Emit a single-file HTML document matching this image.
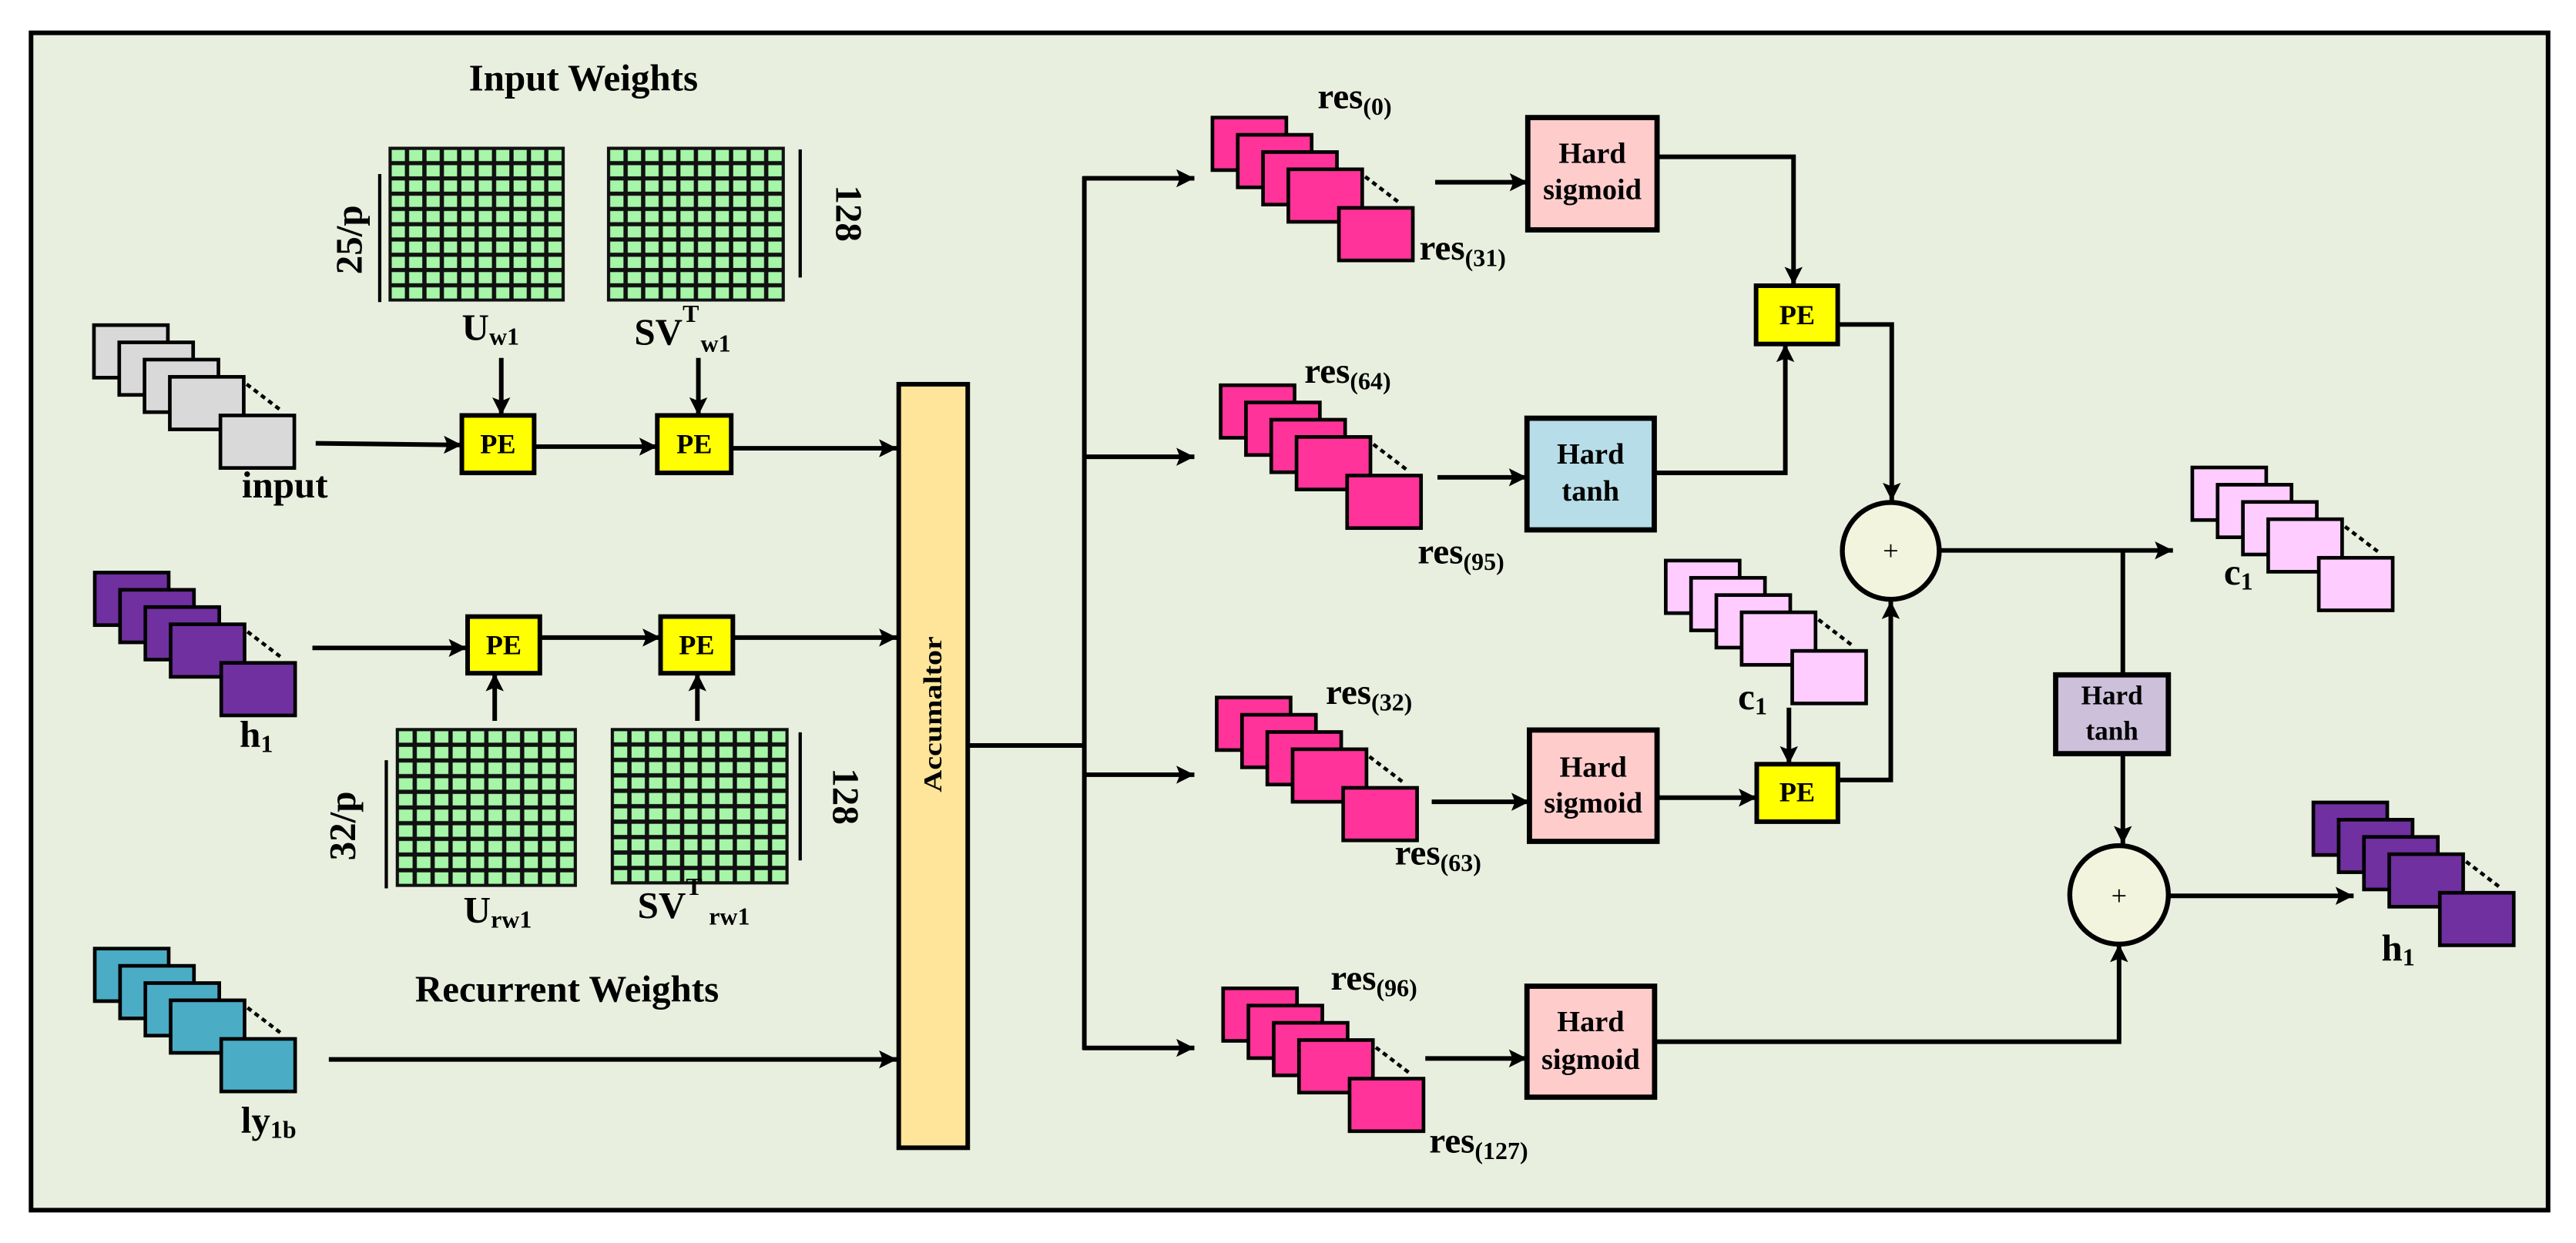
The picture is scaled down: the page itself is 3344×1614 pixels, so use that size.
<!DOCTYPE html>
<html><head><meta charset="utf-8"><style>
html,body{margin:0;padding:0;background:#fff;}
svg{display:block;}
text{font-family:"Liberation Serif",serif;font-weight:bold;fill:#000;}
</style></head><body>
<svg width="3344" height="1614" viewBox="0 0 1568 757" xmlns="http://www.w3.org/2000/svg">
<defs>
<marker id="ah" viewBox="0 0 10 10" markerWidth="13" markerHeight="11" markerUnits="userSpaceOnUse" refX="10" refY="5" orient="auto">
<path d="M0,0 L10,5 L0,10 L2,5 Z" fill="#000"/>
</marker>
<g id="stk" stroke="#000" stroke-width="2.2">
<rect x="0" y="0" width="45" height="32"/>
<rect x="15.4" y="10.5" width="45" height="32"/>
<rect x="30.8" y="21" width="45" height="32"/>
<rect x="46.2" y="31.5" width="45" height="32"/>
<line x1="93" y1="36" x2="114" y2="52" stroke-dasharray="3,2.5" fill="none"/>
<rect x="77" y="55" width="45" height="32"/>
</g>
<pattern id="gr1" patternUnits="userSpaceOnUse" x="237" y="90" width="10.6" height="9.3">
<rect width="10.6" height="9.3" fill="#111"/><rect x="1.3" y="1.3" width="8" height="6.8" fill="#a6f5a8"/></pattern>
<pattern id="gr2" patternUnits="userSpaceOnUse" x="370" y="90" width="10.7" height="9.3">
<rect width="10.7" height="9.3" fill="#111"/><rect x="1.3" y="1.3" width="8.1" height="6.8" fill="#a6f5a8"/></pattern>
<pattern id="gr3" patternUnits="userSpaceOnUse" x="241.4" y="444" width="10.9" height="9.55">
<rect width="10.9" height="9.55" fill="#111"/><rect x="1.3" y="1.3" width="8.3" height="7" fill="#a6f5a8"/></pattern>
<pattern id="gr4" patternUnits="userSpaceOnUse" x="372.3" y="444" width="10.7" height="9.4">
<rect width="10.7" height="9.4" fill="#111"/><rect x="1.3" y="1.3" width="8.1" height="6.8" fill="#a6f5a8"/></pattern>
</defs>

<rect x="0" y="0" width="1568" height="757" fill="#fff"/>
<rect x="18.7" y="20" width="1532.5" height="717" fill="#e9efdf" stroke="#000" stroke-width="2.8"/>

<text x="355" y="55" font-size="23" text-anchor="middle">Input Weights</text>
<text x="345" y="610" font-size="23" text-anchor="middle">Recurrent Weights</text>

<rect x="237" y="90" width="106" height="93" fill="url(#gr1)" stroke="#111" stroke-width="1.3"/>
<rect x="370" y="90" width="107" height="93" fill="url(#gr2)" stroke="#111" stroke-width="1.3"/>
<rect x="241.4" y="444" width="109" height="95.5" fill="url(#gr3)" stroke="#111" stroke-width="1.3"/>
<rect x="372.3" y="444" width="107" height="94" fill="url(#gr4)" stroke="#111" stroke-width="1.3"/>

<line x1="231" y1="106" x2="231" y2="184" stroke="#000" stroke-width="2"/>
<line x1="487" y1="91" x2="487" y2="169" stroke="#000" stroke-width="2"/>
<line x1="235" y1="463" x2="235" y2="541" stroke="#000" stroke-width="2"/>
<line x1="487" y1="446" x2="487" y2="524" stroke="#000" stroke-width="2"/>
<text transform="translate(220,146) rotate(-90)" font-size="23" text-anchor="middle">25/p</text>
<text transform="translate(509,130) rotate(90)" font-size="23" text-anchor="middle">128</text>
<text transform="translate(216,503) rotate(-90)" font-size="23" text-anchor="middle">32/p</text>
<text transform="translate(507,485) rotate(90)" font-size="23" text-anchor="middle">128</text>

<text x="281" y="207" font-size="23">U<tspan font-size="15" dy="3">w1</tspan></text>
<text x="386" y="210" font-size="23">SV<tspan font-size="15" dy="-14">T</tspan><tspan font-size="15" dx="1" dy="18">w1</tspan></text>
<text x="282" y="562" font-size="23">U<tspan font-size="15" dy="3">rw1</tspan></text>
<text x="388" y="559" font-size="23">SV<tspan font-size="15" dy="-14">T</tspan><tspan font-size="15" dx="4" dy="18">rw1</tspan></text>

<use href="#stk" x="57" y="198" fill="#d9d9d9"/>
<use href="#stk" x="57.5" y="348.7" fill="#7030a0"/>
<use href="#stk" x="57.5" y="577.7" fill="#4bacc6"/>
<text x="147" y="303" font-size="23">input</text>
<text x="145.7" y="455" font-size="23">h<tspan font-size="15" dy="3">1</tspan></text>
<text x="146.5" y="690" font-size="23">ly<tspan font-size="15" dy="3">1b</tspan></text>

<g stroke="#000" stroke-width="2.8" fill="#ffff00">
<rect x="281" y="253" width="44" height="35"/>
<rect x="400" y="253" width="45" height="35"/>
<rect x="284.5" y="375.5" width="44" height="34.5"/>
<rect x="402" y="375.5" width="44" height="34.5"/>
<rect x="1069" y="174" width="49.7" height="35.5"/>
<rect x="1069.4" y="465.4" width="49.4" height="35"/>
</g>
<g font-size="17" text-anchor="middle">
<text x="303" y="276">PE</text>
<text x="422.5" y="276">PE</text>
<text x="306.5" y="398.5">PE</text>
<text x="424" y="398.5">PE</text>
<text x="1094" y="197.5">PE</text>
<text x="1094" y="488">PE</text>
</g>

<rect x="547" y="234" width="42" height="465" fill="#ffe599" stroke="#000" stroke-width="2.8"/>
<text transform="translate(573,435) rotate(-90)" font-size="16" text-anchor="middle" textLength="95" lengthAdjust="spacingAndGlyphs">Accumaltor</text>

<use href="#stk" x="738" y="71.6" fill="#ff3399"/>
<use href="#stk" x="743" y="234.6" fill="#ff3399"/>
<use href="#stk" x="740.6" y="424.8" fill="#ff3399"/>
<use href="#stk" x="744.5" y="601.9" fill="#ff3399"/>
<g font-size="22">
<text x="802" y="66">res<tspan font-size="15" dy="4">(0)</tspan></text>
<text x="864" y="158">res<tspan font-size="15" dy="4">(31)</tspan></text>
<text x="794" y="233">res<tspan font-size="15" dy="4">(64)</tspan></text>
<text x="863" y="343">res<tspan font-size="15" dy="4">(95)</tspan></text>
<text x="807" y="428.6">res<tspan font-size="15" dy="4">(32)</tspan></text>
<text x="849" y="526.4">res<tspan font-size="15" dy="4">(63)</tspan></text>
<text x="810" y="602.7">res<tspan font-size="15" dy="4">(96)</tspan></text>
<text x="870" y="701.8">res<tspan font-size="15" dy="4">(127)</tspan></text>
</g>

<g stroke="#000" stroke-width="3.2">
<rect x="930" y="71.6" width="78.7" height="68.4" fill="#ffcccc"/>
<rect x="929.5" y="254.7" width="77.5" height="68" fill="#b7dde8"/>
<rect x="931" y="444.6" width="77.7" height="67.8" fill="#ffcccc"/>
<rect x="929.5" y="600.6" width="77.7" height="67.6" fill="#ffcccc"/>
<rect x="1251.4" y="411" width="68.6" height="48" fill="#ccc0da"/>
</g>
<g font-size="18" text-anchor="middle">
<text x="969.3" y="99.2">Hard</text><text x="969.3" y="121.2">sigmoid</text>
<text x="968.2" y="282.4">Hard</text><text x="968.2" y="304.8">tanh</text>
<text x="969.8" y="473">Hard</text><text x="969.8" y="494.7">sigmoid</text>
<text x="968.3" y="628">Hard</text><text x="968.3" y="651">sigmoid</text>
<text x="1285.7" y="429" font-size="16.5">Hard</text><text x="1285.7" y="450.5" font-size="16.5">tanh</text>
</g>

<use href="#stk" x="1014" y="341.4" fill="#ffccff"/>
<use href="#stk" x="1334.6" y="284.7" fill="#ffccff"/>
<use href="#stk" x="1408.3" y="488.7" fill="#7030a0"/>
<text x="1058" y="432" font-size="23">c<tspan font-size="15" dy="3">1</tspan></text>
<text x="1353.8" y="356" font-size="23">c<tspan font-size="15" dy="3">1</tspan></text>
<text x="1449.8" y="585" font-size="23">h<tspan font-size="15" dy="3">1</tspan></text>

<circle cx="1151" cy="335.5" r="29.5" fill="#f3f4de" stroke="#000" stroke-width="3"/>
<circle cx="1290" cy="545" r="30" fill="#f3f4de" stroke="#000" stroke-width="3"/>
<text x="1151" y="341" font-size="17" text-anchor="middle" style="font-weight:normal">+</text>
<text x="1290" y="551" font-size="17" text-anchor="middle" style="font-weight:normal">+</text>

<g stroke="#000" stroke-width="2.8" fill="none">
<line x1="192" y1="270" x2="281" y2="271" marker-end="url(#ah)"/>
<line x1="325" y1="272" x2="400" y2="272" marker-end="url(#ah)"/>
<line x1="445" y1="273" x2="546" y2="273" marker-end="url(#ah)"/>
<line x1="305" y1="218" x2="305" y2="253" marker-end="url(#ah)"/>
<line x1="425" y1="218" x2="425" y2="253" marker-end="url(#ah)"/>
<line x1="190" y1="394.6" x2="284" y2="394.6" marker-end="url(#ah)"/>
<line x1="328" y1="388.3" x2="402" y2="388.3" marker-end="url(#ah)"/>
<line x1="446" y1="388.3" x2="546" y2="388.3" marker-end="url(#ah)"/>
<line x1="301" y1="439" x2="301" y2="410" marker-end="url(#ah)"/>
<line x1="424.4" y1="439" x2="424.4" y2="410" marker-end="url(#ah)"/>
<line x1="200" y1="645.2" x2="546" y2="645.2" marker-end="url(#ah)"/>
<line x1="589" y1="454" x2="660" y2="454"/>
<line x1="660" y1="107.4" x2="660" y2="639.4"/>
<line x1="659" y1="108.6" x2="727" y2="108.6" marker-end="url(#ah)"/>
<line x1="659" y1="278.2" x2="727" y2="278.2" marker-end="url(#ah)"/>
<line x1="659" y1="471.8" x2="727" y2="471.8" marker-end="url(#ah)"/>
<line x1="659" y1="638.2" x2="727" y2="638.2" marker-end="url(#ah)"/>
<line x1="873.6" y1="111" x2="930" y2="111" marker-end="url(#ah)"/>
<line x1="875" y1="290.7" x2="929.5" y2="290.7" marker-end="url(#ah)"/>
<line x1="871.5" y1="488.3" x2="931" y2="488.3" marker-end="url(#ah)"/>
<line x1="867.6" y1="644.6" x2="929.5" y2="644.6" marker-end="url(#ah)"/>
<polyline points="1008.7,95.5 1091.8,95.5 1091.8,173.5" marker-end="url(#ah)"/>
<polyline points="1007,288 1086.8,288 1086.8,209.5" marker-end="url(#ah)"/>
<polyline points="1118.7,197.6 1151.6,197.6 1151.6,305" marker-end="url(#ah)"/>
<line x1="1008.7" y1="485.8" x2="1069.4" y2="485.8" marker-end="url(#ah)"/>
<line x1="1089" y1="431" x2="1089" y2="465.4" marker-end="url(#ah)"/>
<polyline points="1118.8,475 1151,475 1151,366" marker-end="url(#ah)"/>
<line x1="1180.5" y1="335.2" x2="1322.8" y2="335.2" marker-end="url(#ah)"/>
<line x1="1292.3" y1="335.2" x2="1292.3" y2="411"/>
<line x1="1292.3" y1="459" x2="1292.3" y2="514" marker-end="url(#ah)"/>
<line x1="1320" y1="545.6" x2="1432.8" y2="545.6" marker-end="url(#ah)"/>
<polyline points="1007.2,634.4 1290,634.4 1290,575" marker-end="url(#ah)"/>
</g>
</svg>
</body></html>
